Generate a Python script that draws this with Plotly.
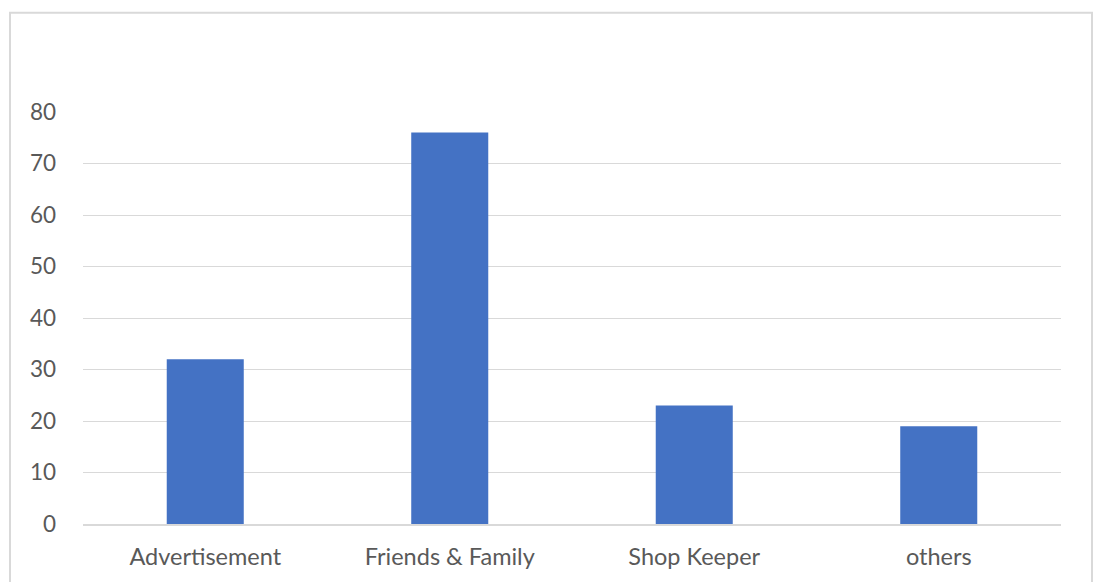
import plotly.graph_objects as go

categories = ["Advertisement", "Friends & Family", "Shop Keeper", "others"]
values = [32, 76, 23, 19]
y_ticks = [0, 10, 20, 30, 40, 50, 60, 70, 80]

W, H = 1094, 582
L, R, T, B = 83, 33, 112, 55
pw, ph = W - L - R, H - T - B

fig = go.Figure(go.Bar(x=categories, y=values, marker=dict(color="#4472C4", line=dict(width=0))))

fig.update_layout(
    width=W, height=H,
    margin=dict(l=L, r=R, t=T, b=B, pad=0),
    paper_bgcolor="white", plot_bgcolor="white",
    bargap=0.685,
    showlegend=False,
    font=dict(family="Lato, Open Sans, sans-serif", size=22, color="#595959"),
    xaxis=dict(showgrid=False, showline=True, linecolor="#D9D9D9", linewidth=1.5,
               ticks="", ticklabelstandoff=11, tickfont=dict(size=23.5, color="#595959")),
    yaxis=dict(range=[0, 80], tickvals=y_ticks, showgrid=True, gridcolor="#D9D9D9", gridwidth=1,
               zeroline=False, showline=False, ticks="", ticklabelstandoff=26,
               tickfont=dict(size=22.5, color="#595959")),
)

def px_x(x):
    return (x - L) / pw

def px_y(y):
    return (H - B - y) / ph

fig.add_shape(type="rect", xref="paper", yref="paper",
              x0=px_x(10), x1=px_x(1092), y0=px_y(600), y1=px_y(12),
              line=dict(color="#D9D9D9", width=2), fillcolor="rgba(0,0,0,0)", layer="below")

fig.write_html("out.html", config={"displayModeBar": False},
               post_script="document.body.style.margin='0';document.body.style.overflow='hidden';")
